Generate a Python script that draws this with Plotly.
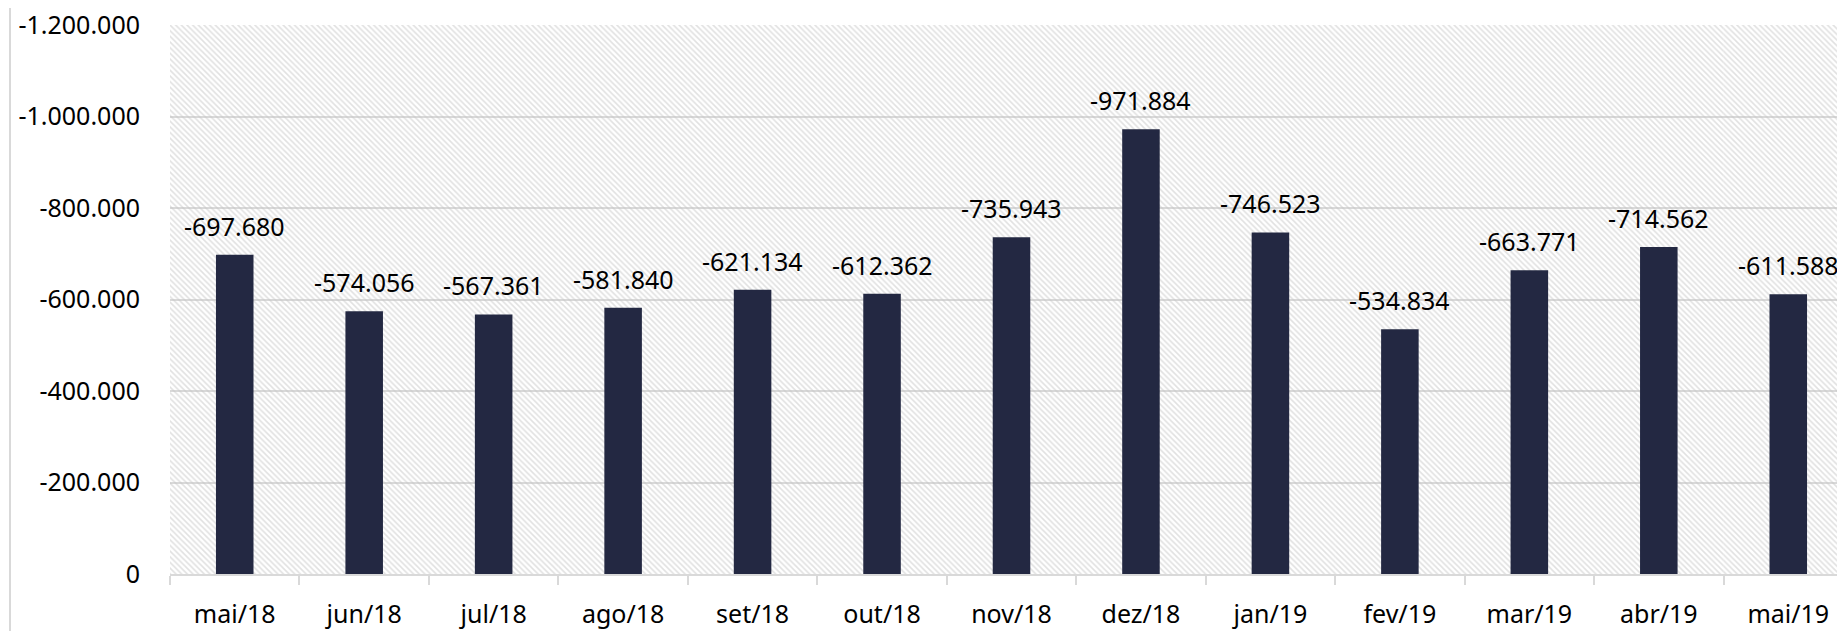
import plotly.graph_objects as go

categories = ["mai/18", "jun/18", "jul/18", "ago/18", "set/18", "out/18", "nov/18",
              "dez/18", "jan/19", "fev/19", "mar/19", "abr/19", "mai/19"]
values = [-697680, -574056, -567361, -581840, -621134, -612362, -735943,
          -971884, -746523, -534834, -663771, -714562, -611588]
y_ticks = [0, -200000, -400000, -600000, -800000, -1000000, -1200000]
y_min = -1200000


def fmt(v):
    return f"{v:,}".replace(",", ".")


font = dict(family="Noto Sans", size=25, color="#000000")

fig = go.Figure()
# hatched plot background
fig.add_trace(go.Bar(
    x=categories, y=[y_min] * len(categories), width=1,
    marker=dict(color="rgba(0,0,0,0)", line=dict(width=0),
                pattern=dict(shape="\\", fgcolor="#c4c4c4", size=4, solidity=0.4,
                             fillmode="overlay")),
    hoverinfo="skip", showlegend=False,
))
fig.add_trace(go.Bar(
    x=categories, y=values, width=0.29,
    marker=dict(color="#232842", line=dict(width=0)),
    showlegend=False,
))

annotations = [dict(x=c, y=v, xref="x", yref="y", text=fmt(v), showarrow=False,
                    yanchor="bottom", yshift=10, font=font)
               for c, v in zip(categories, values)]

plot_w = 1845 - 162
fig.update_layout(
    width=1845, height=631,
    margin=dict(l=162, r=0, t=17, b=65),
    paper_bgcolor="white", plot_bgcolor="white",
    barmode="overlay",
    font=font,
    annotations=annotations,
    xaxis=dict(showgrid=False, showline=True, linecolor="#d9d9d9", linewidth=2,
               ticks="outside", tickson="boundaries", ticklen=9, tickcolor="#d9d9d9",
               tickwidth=2, ticklabelstandoff=17, tickfont=font,
               ticklabeloverflow="allow"),
    yaxis=dict(range=[0, y_min], tickvals=y_ticks, ticktext=[fmt(v) for v in y_ticks],
               showgrid=True, gridcolor="#d9d9d9", gridwidth=2, zeroline=False,
               showline=False, ticks="", ticklabelstandoff=29, tickfont=font,
               ticklabeloverflow="allow"),
    shapes=[dict(type="line", xref="paper", yref="paper",
                 x0=-160 / plot_w, x1=-160 / plot_w, y0=-0.3, y1=1.2,
                 line=dict(color="#d9d9d9", width=2))],
)

fig.write_html("out.html")
